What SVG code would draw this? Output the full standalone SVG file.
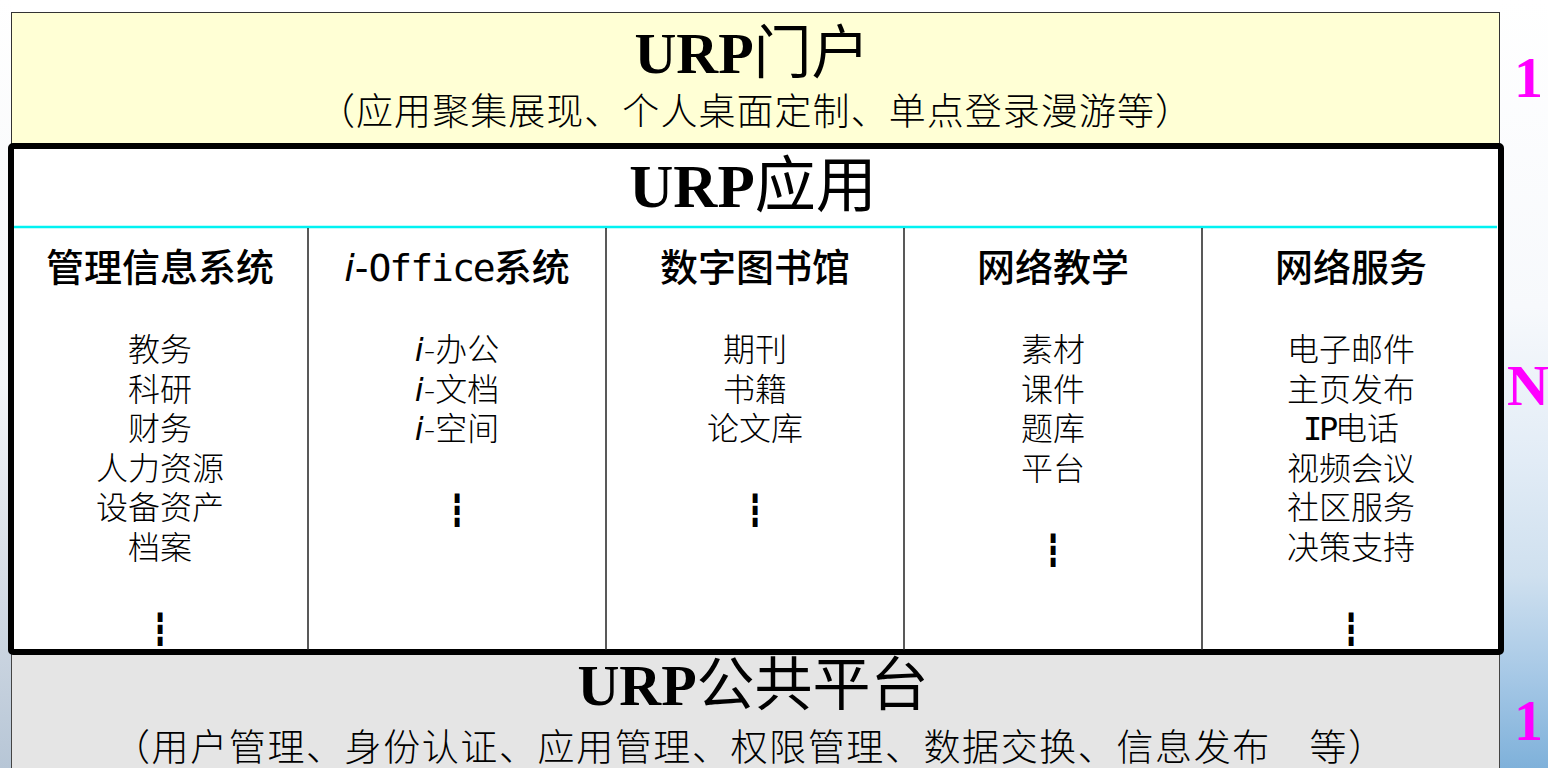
<svg xmlns="http://www.w3.org/2000/svg" width="1548" height="768" viewBox="0 0 1548 768">
  <defs>
    <linearGradient id="bgR" x1="0" y1="0" x2="0" y2="1">
      <stop offset="0" stop-color="#ffffff"/>
      <stop offset="0.4" stop-color="#f7f9fc"/>
      <stop offset="0.6" stop-color="#e2ecf6"/>
      <stop offset="0.75" stop-color="#cfe0ef"/>
      <stop offset="0.88" stop-color="#a6c8e6"/>
      <stop offset="1" stop-color="#7fb1da"/>
    </linearGradient>
    <linearGradient id="bgL" x1="0" y1="0" x2="0" y2="1">
      <stop offset="0" stop-color="#ffffff"/>
      <stop offset="0.5" stop-color="#f3f5f8"/>
      <stop offset="0.75" stop-color="#d6dde6"/>
      <stop offset="1" stop-color="#b7c6d6"/>
    </linearGradient>
    <style>
      .title { font-family: "Liberation Serif", "Noto Sans CJK SC", serif; font-size: 58px; text-anchor: middle; fill: #000; }
      .urp { font-weight: bold; }
      .sub { font-family: "Noto Sans CJK SC", sans-serif; font-size: 37px; fill: #000; font-weight: 300; }
      .head { font-family: "Noto Sans CJK SC", sans-serif; font-size: 38px; font-weight: 500; text-anchor: middle; fill: #000; }
      .item { font-family: "Noto Sans CJK SC", sans-serif; font-size: 32px; font-weight: 300; text-anchor: middle; fill: #000; }
      .dots { font-family: "DejaVu Sans Mono", monospace; font-size: 31px; text-anchor: middle; fill: #000; }
      .mono { font-family: "DejaVu Sans Mono", monospace; }
      .ital { font-family: "DejaVu Sans", sans-serif; font-style: italic; }
      .hy { font-family: "DejaVu Sans", sans-serif; }
      .sep { stroke: #222; stroke-width: 1.5; }
      .side { font-family: "Liberation Serif", serif; font-weight: bold; font-size: 58px; fill: #ff00ff; }
    </style>
  </defs>

  <!-- background -->
  <rect x="0" y="0" width="1548" height="768" fill="#ffffff"/>
  <rect x="1500" y="0" width="48" height="768" fill="url(#bgR)"/>
  <rect x="0" y="0" width="11" height="768" fill="url(#bgL)"/>

  <!-- top: URP portal -->
  <g id="portal">
    <rect x="11.5" y="12.5" width="1488" height="132" fill="#ffffd5" stroke="#333" stroke-width="1"/>
    <text class="title" x="752" y="73"><tspan class="urp">URP</tspan>门户</text>
    <text class="sub" x="318" y="125" textLength="874" lengthAdjust="spacing">（应用聚集展现、个人桌面定制、单点登录漫游等）</text>
  </g>

  <!-- bottom: URP common platform -->
  <g id="platform">
    <rect x="11.5" y="652" width="1488" height="130" fill="#e5e5e5" stroke="#444" stroke-width="1"/>
    <text class="title" x="753" y="705"><tspan class="urp">URP</tspan>公共平台</text>
    <text class="sub" x="113" y="761" textLength="1272" lengthAdjust="spacing">（用户管理、身份认证、应用管理、权限管理、数据交换、信息发布　等）</text>
  </g>

  <!-- middle: URP applications -->
  <g id="apps">
    <rect x="11" y="146" width="1490" height="506" rx="2" fill="#ffffff" stroke="#000" stroke-width="6"/>
    <text class="title" x="753" y="207" style="font-size:61px"><tspan class="urp">URP</tspan>应用</text>
    <line x1="14" y1="227" x2="1497" y2="227" stroke="#00f2f2" stroke-width="2.5"/>
  </g>

  <g id="col-mis">
    <line class="sep" x1="308" y1="228" x2="308" y2="650"/>
    <text class="head" x="160" y="281">管理信息系统</text>
    <text class="item" x="160" y="361">教务</text>
    <text class="item" x="160" y="400.6">科研</text>
    <text class="item" x="160" y="440.2">财务</text>
    <text class="item" x="160" y="479.8">人力资源</text>
    <text class="item" x="160" y="519.4">设备资产</text>
    <text class="item" x="160" y="559">档案</text>
    <text class="dots" x="160" y="640">┇</text>
  </g>

  <g id="col-ioffice">
    <line class="sep" x1="606" y1="228" x2="606" y2="650"/>
    <text class="head" x="457" y="281"><tspan class="ital" style="font-weight:normal">i</tspan><tspan class="hy" style="font-weight:normal">-</tspan><tspan class="mono" style="font-weight:normal" letter-spacing="-2">Office</tspan>系统</text>
    <text class="item" x="457" y="361"><tspan class="ital">i</tspan><tspan class="hy">-</tspan>办公</text>
    <text class="item" x="457" y="400.6"><tspan class="ital">i</tspan><tspan class="hy">-</tspan>文档</text>
    <text class="item" x="457" y="440.2"><tspan class="ital">i</tspan><tspan class="hy">-</tspan>空间</text>
    <text class="dots" x="457" y="521">┇</text>
  </g>

  <g id="col-library">
    <line class="sep" x1="904" y1="228" x2="904" y2="650"/>
    <text class="head" x="755" y="281">数字图书馆</text>
    <text class="item" x="755" y="361">期刊</text>
    <text class="item" x="755" y="400.6">书籍</text>
    <text class="item" x="755" y="440.2">论文库</text>
    <text class="dots" x="755" y="521">┇</text>
  </g>

  <g id="col-teaching">
    <line class="sep" x1="1202" y1="228" x2="1202" y2="650"/>
    <text class="head" x="1053" y="281">网络教学</text>
    <text class="item" x="1053" y="361">素材</text>
    <text class="item" x="1053" y="400.6">课件</text>
    <text class="item" x="1053" y="440.2">题库</text>
    <text class="item" x="1053" y="479.8">平台</text>
    <text class="dots" x="1053" y="561">┇</text>
  </g>

  <g id="col-service">
    <text class="head" x="1351" y="281">网络服务</text>
    <text class="item" x="1351" y="361">电子邮件</text>
    <text class="item" x="1351" y="400.6">主页发布</text>
    <text class="item" x="1351" y="440.2"><tspan class="mono" letter-spacing="-3.3">IP</tspan>电话</text>
    <text class="item" x="1351" y="479.8">视频会议</text>
    <text class="item" x="1351" y="519.4">社区服务</text>
    <text class="item" x="1351" y="559">决策支持</text>
    <text class="dots" x="1351" y="640">┇</text>
  </g>

  <g id="connectors"></g>

  <!-- side labels -->
  <g id="side-labels">
    <text class="side" x="1514" y="97">1</text>
    <text class="side" x="1507" y="405">N</text>
    <text class="side" x="1514" y="740">1</text>
  </g>
</svg>
